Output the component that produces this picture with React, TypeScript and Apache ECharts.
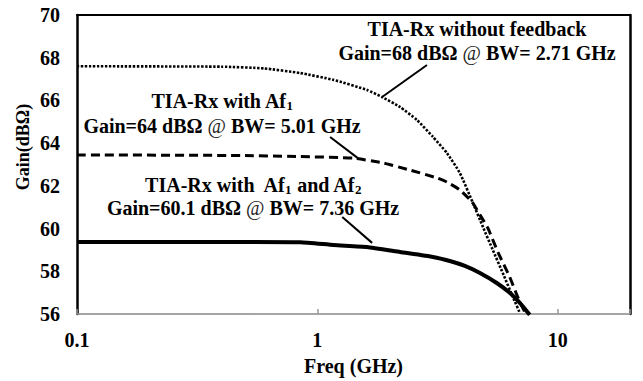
import React, { useEffect, useRef } from "react";
import * as echarts from "echarts";

const xTickLabels = ["0.1", "1", "10"];
const yMin = 56;
const yMax = 70;
const yStep = 2;

const freqNoFb = [0.1, 0.4, 0.6, 0.85, 1.17, 1.61, 1.86, 2.21, 2.6, 3.03, 3.46, 3.92, 4.44, 4.89, 5.37, 5.91, 6.51, 6.96];
const gainNoFb = [67.6, 67.58, 67.5, 67.28, 66.96, 66.49, 66.16, 65.69, 65.08, 64.29, 63.54, 62.6, 61.2, 60.07, 59.0, 57.92, 56.8, 56.05];

const freqAf1 = [0.1, 0.5, 0.85, 1.41, 1.88, 2.43, 3.15, 3.46, 3.92, 4.4, 4.75, 5.12, 5.64, 6.32, 6.82, 7.36];
const gainAf1 = [63.45, 63.42, 63.37, 63.3, 63.07, 62.74, 62.37, 62.18, 61.81, 61.25, 60.64, 60.03, 58.9, 57.73, 56.8, 56.0];

const freqAf12 = [0.1, 0.5, 0.85, 1.17, 1.61, 2.21, 3.03, 3.56, 4.11, 4.75, 5.58, 6.32, 6.96, 7.65];
const gainAf12 = [59.37, 59.37, 59.36, 59.23, 59.14, 58.9, 58.67, 58.48, 58.25, 57.92, 57.45, 56.99, 56.52, 55.96];

// annotation arrows: [fromFreq, fromGain, toFreq, toGain]
const arrowNoFb = [2.86, 67.66, 1.86, 66.16];
const arrowAf1 = [1.13, 64.29, 1.47, 63.31];
const arrowAf12 = [1.27, 60.54, 1.69, 59.33];

const FONT = "Liberation Serif";

function arrowMark(a: number[]) {
  return {
    silent: true,
    symbol: ["none", "arrow"],
    symbolSize: [0, 14],
    label: { show: false },
    lineStyle: { color: "#000", width: 2, type: "solid" },
    emphasis: { disabled: true },
    data: [[{ coord: [a[0], a[1]] }, { coord: [a[2], a[3]] }]],
  };
}

export default function App() {
  const ref = useRef<HTMLDivElement>(null);
  useEffect(() => {
    document.body.style.margin = "0";
    if (!ref.current) return;
    const chart = echarts.init(ref.current, null, { renderer: "svg" });
    const zip = (xs: number[], ys: number[]) => xs.map((x, i) => [x, ys[i]]);
    const textStyleBase = {
      fontFamily: FONT,
      fontWeight: "bold",
      fontSize: 20,
      fill: "#000",
      textAlign: "center",
      textVerticalAlign: "middle",
      rich: {
        at: { fontWeight: "normal", fontSize: 20, fontFamily: FONT, fill: "#222" },
        sub: { fontSize: 13, fontWeight: "bold", fontFamily: FONT, padding: [8, 0, 0, 0] },
      },
    };
    const txt = (x: number, y: number, t: string) => ({
      type: "text",
      x,
      y,
      style: { ...textStyleBase, text: t },
      silent: true,
    });
    chart.setOption({
      animation: false,
      textStyle: { fontFamily: FONT },
      grid: { left: 77, right: 13, top: 15, bottom: 66 },
      xAxis: [
        {
          type: "log",
          logBase: 10,
          min: 0.1,
          max: 20,
          name: "Freq (GHz)",
          nameLocation: "middle",
          nameGap: 42,
          nameTextStyle: { fontFamily: FONT, fontWeight: "bold", fontSize: 20, color: "#000" },
          axisLine: { show: true, lineStyle: { color: "#888", width: 1.5 } },
          axisTick: { show: true, inside: true, length: 5, lineStyle: { color: "#999", width: 1.5 } },
          minorTick: { show: false },
          splitLine: { show: false },
          axisLabel: {
            margin: 16,
            fontFamily: FONT,
            fontWeight: "bold",
            fontSize: 20,
            color: "#000",
            formatter: (v: number) => {
              const s = String(Math.round(v * 10) / 10);
              return xTickLabels.includes(s) ? s : "";
            },
          },
        },
        {
          type: "log",
          logBase: 10,
          min: 0.1,
          max: 20,
          position: "top",
          axisLine: { show: true, lineStyle: { color: "#000", width: 2 } },
          axisTick: { show: false },
          axisLabel: { show: false },
          splitLine: { show: false },
        },
      ],
      yAxis: [
        {
          type: "value",
          min: yMin,
          max: yMax,
          interval: yStep,
          axisLine: { show: true, lineStyle: { color: "#000", width: 2.5 } },
          axisTick: { show: false },
          splitLine: { show: false },
          axisLabel: { margin: 17, fontFamily: FONT, fontWeight: "bold", fontSize: 20, color: "#000" },
        },
        {
          type: "value",
          min: yMin,
          max: yMax,
          interval: yStep,
          position: "right",
          axisLine: { show: true, lineStyle: { color: "#000", width: 2.5 } },
          axisTick: { show: false },
          axisLabel: { show: false },
          splitLine: { show: false },
        },
      ],
      series: [
        {
          type: "line",
          data: zip(freqNoFb, gainNoFb),
          showSymbol: false,
          smooth: 0.15,
          lineStyle: { color: "#000", width: 2.6, type: [2.4, 1.6] },
          markLine: arrowMark(arrowNoFb),
        },
        {
          type: "line",
          data: zip(freqAf1, gainAf1),
          showSymbol: false,
          smooth: 0.15,
          lineStyle: { color: "#000", width: 3, type: [9, 5] },
          markLine: arrowMark(arrowAf1),
        },
        {
          type: "line",
          data: zip(freqAf12, gainAf12),
          showSymbol: false,
          smooth: 0.15,
          lineStyle: { color: "#000", width: 4 },
          markLine: arrowMark(arrowAf12),
        },
      ],
      graphic: [
        {
          type: "text",
          x: 23,
          y: 147,
          rotation: Math.PI / 2,
          silent: true,
          style: {
            text: "Gain(dBΩ)",
            fontFamily: FONT,
            fontWeight: "bold",
            fontSize: 18,
            fill: "#000",
            textAlign: "center",
            textVerticalAlign: "middle",
          },
        },
        txt(477, 29, "TIA-Rx without feedback"),
        txt(477, 53, "Gain=68 dBΩ {at|@} BW= 2.71 GHz"),
        txt(222, 101, "TIA-Rx with Af{sub|1}"),
        txt(222, 126, "Gain=64 dBΩ {at|@} BW= 5.01 GHz"),
        txt(253, 185, "TIA-Rx with  Af{sub|1} and Af{sub|2}"),
        txt(253, 208, "Gain=60.1 dBΩ {at|@} BW= 7.36 GHz"),
      ],
    });
    return () => chart.dispose();
  }, []);
  return <div ref={ref} style={{ width: 643, height: 381 }} />;
}
